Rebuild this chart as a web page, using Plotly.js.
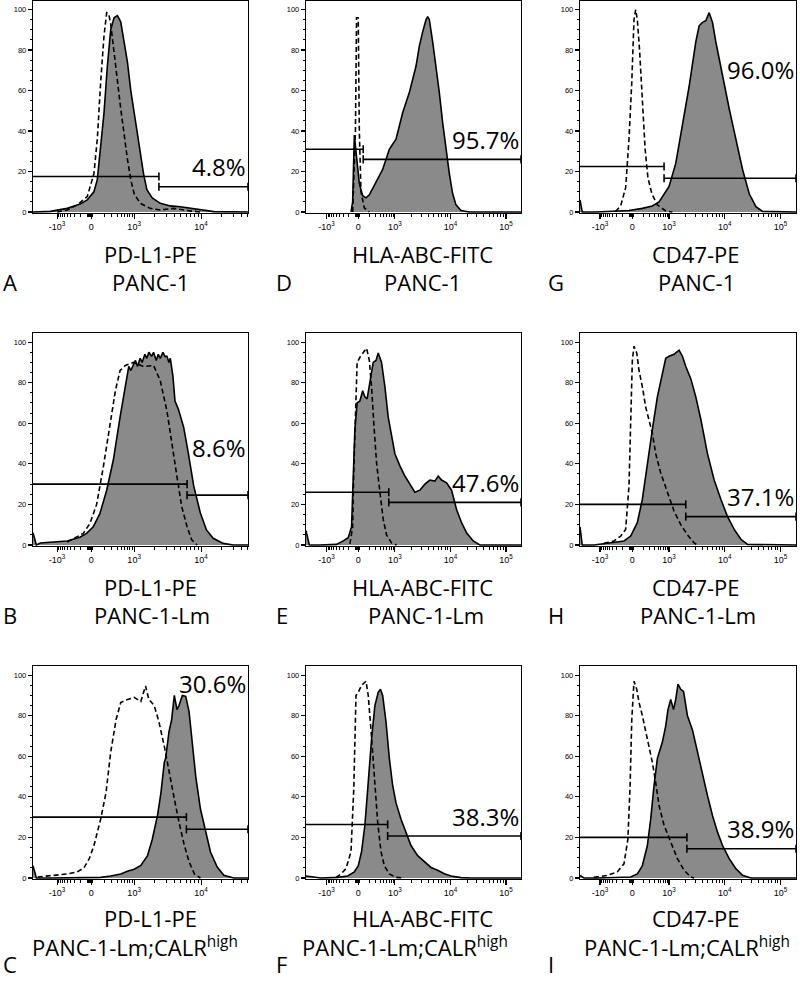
<!DOCTYPE html>
<html><head><meta charset="utf-8">
<script src="https://cdn.plot.ly/plotly-3.0.1.min.js"></script>
<style>html,body{margin:0;padding:0;background:#fff;}#chart{width:800px;height:982px;}</style>
</head><body><div id="chart"></div>
<script>
// x values: biexponential display units (10^3 -> 3, 10^4 -> 4, 10^5 -> 5); y: % of max
const markers = ["PD-L1-PE", "HLA-ABC-FITC", "CD47-PE"];
const cellLines = ["PANC-1", "PANC-1-Lm", "PANC-1-Lm;CALR<sup>high</sup>"];
const panelLetters = ["A","B","C","D","E","F","G","H","I"];
const percentLabels = ["4.8%","8.6%","30.6%","95.7%","47.6%","38.3%","96.0%","37.1%","38.9%"];
const tickLabels = ["-10<sup>3</sup>","0","10<sup>3</sup>","10<sup>4</sup>","10<sup>5</sup>"];

// Panel A: PD-L1, PANC-1
const A_stained_x = [1.49,1.75,2.00,2.20,2.30,2.40,2.45,2.50,2.55,2.60,2.65,2.70,2.75,2.80,2.85,2.90,2.95,3.00,3.04,3.09,3.14,3.19,3.27,3.39,3.54,3.69,3.84,3.99,4.19,4.70];
const A_stained_y = [0,0.3,1.8,4,6,10,16,31,49,72,90,96,97,94,85,74,60,49,39,29,19,11,7,4.3,3,2.6,1.8,1,0.2,0];
const A_control_x = [1.85,2.00,2.15,2.30,2.40,2.45,2.50,2.55,2.59,2.62,2.65,2.70,2.75,2.80,2.85,2.90,2.95,3.00,3.09,3.24,3.39,3.59,3.79,3.99];
const A_control_y = [0,1,3.5,7.6,19,36,64,87,98.5,98,93,80,65,51,37,26,16,9,4.3,1.8,1,1.8,0.7,0];
// Panel B: PD-L1, PANC-1-Lm
const B_stained_x = [1.49,1.52,1.54,1.60,1.80,2.00,2.19,2.29,2.39,2.49,2.59,2.69,2.79,2.87,2.92,2.95,2.99,3.02,3.05,3.09,3.12,3.16,3.19,3.22,3.26,3.29,3.33,3.36,3.39,3.43,3.46,3.49,3.52,3.54,3.58,3.61,3.66,3.74,3.81,3.89,3.99,4.08,4.18,4.33,4.48,4.71];
const B_stained_y = [6,3,0,1,1.6,2,3.8,5.7,9,15.6,27,42,63,78,88,86,89,91,88,92,90,94,92,95,93,95,91,94,92,95,93,93,90,92,83,71,67,58,45,29,15.6,7.4,3.3,0.8,0,0];
const B_control_x = [2.00,2.24,2.34,2.44,2.54,2.64,2.72,2.79,2.87,2.99,3.14,3.29,3.39,3.49,3.56,3.64,3.71,3.79,3.86,3.94];
const B_control_y = [1.5,5.7,10.6,20,38.5,60,76,86,88.5,90,88,88.5,81,66,50,33.6,19,9,2.5,0];
// Panel C: PD-L1, PANC-1-Lm;CALRhigh
const C_stained_x = [1.49,1.54,1.76,2.25,2.50,2.65,2.80,2.90,3.00,3.10,3.20,3.27,3.35,3.40,3.45,3.47,3.52,3.56,3.60,3.64,3.67,3.72,3.77,3.82,3.87,3.92,3.99,4.07,4.14,4.24,4.34,4.49,4.70];
const C_stained_y = [6,0,0,0,0.3,1,2,3.3,4.3,6.2,11,19,31,42,57,59,72,78,90,83,85,90,89.5,82,65,50,34,22.6,12.8,5.4,1.3,0,0];
const C_control_x = [1.56,1.71,1.86,2.01,2.15,2.25,2.33,2.40,2.50,2.58,2.65,2.73,2.80,2.90,3.00,3.10,3.17,3.22,3.30,3.37,3.45,3.52,3.60,3.67,3.75,3.82,3.90,3.99];
const C_control_y = [0.5,1,1.3,2,3,5,9.5,16,29,42,62,78,86.5,88,89,87,94.7,88,85,77,65,52,39,27.5,16,8,2,0];
// Panel D: HLA-ABC, PANC-1
const D_stained_x = [2.21,2.24,2.27,2.30,2.33,2.36,2.42,2.48,2.54,2.66,2.78,2.90,3.02,3.14,3.26,3.38,3.44,3.50,3.56,3.59,3.62,3.68,3.74,3.80,3.86,3.92,3.98,4.04,4.10,4.19,4.34,5.27];
const D_stained_y = [0,5,38,30,20,14,8,7,8.5,15,21,31,36,49,59,72,82,89,95,96.5,95,84,72,59,44,31,19,9,3.5,0.7,0,0];
const D_control_x = [2.24,2.29,2.31,2.34,2.36,2.39,2.45,2.54];
const D_control_y = [0,40,96,96,40,10,2,0];
// Panel E: HLA-ABC, PANC-1-Lm
const E_stained_x = [1.40,1.46,1.65,1.95,2.07,2.16,2.22,2.25,2.28,2.32,2.37,2.42,2.46,2.50,2.55,2.61,2.66,2.70,2.76,2.82,2.88,2.94,3.00,3.09,3.18,3.27,3.36,3.45,3.54,3.63,3.72,3.78,3.84,3.93,4.02,4.11,4.20,4.29,4.41,4.53,5.28];
const E_stained_y = [7,0,0,0.3,2,3.6,9,29,57,70,71,76,73,72,81,90,91,94.6,90,78,63,54,45,39,34,30,26,27,30,32,31.5,34,32,30.6,27,17.5,11,6,2,0,0];
const E_control_x = [2.19,2.24,2.26,2.29,2.32,2.38,2.43,2.49,2.54,2.58,2.62,2.67,2.73,2.79,2.85,2.94,3.03];
const E_control_y = [0.5,9,37,70,90,93,94.6,97,91,78,60,40.5,26,12.6,5,1,0];
// Panel F: HLA-ABC, PANC-1-Lm;CALRhigh
const F_stained_x = [1.40,1.67,1.97,2.15,2.27,2.34,2.40,2.46,2.52,2.58,2.64,2.70,2.74,2.78,2.84,2.90,2.96,3.02,3.11,3.20,3.29,3.41,3.53,3.65,3.77,3.89,4.01,4.19,4.37,5.27];
const F_stained_y = [1,0,0.3,1,3,6,13,26,47,68.5,85,91.5,93,90,77,59,45.6,37,29,22.6,16,11,7.9,5.2,3.8,2.1,1,0.2,0,0];
const F_control_x = [1.94,2.03,2.12,2.21,2.26,2.28,2.30,2.34,2.40,2.48,2.52,2.57,2.63,2.69,2.75,2.81,2.90,3.02,3.17];
const F_control_y = [0.3,2,4.6,13,44,77,90,91.5,95,97,90,73,49,27.5,13,6,2,0.3,0];
// Panel G: CD47, PANC-1
const G_stained_x = [1.40,1.44,1.68,1.98,2.28,2.52,2.70,2.82,2.88,3.00,3.12,3.24,3.36,3.48,3.54,3.60,3.66,3.72,3.78,3.84,3.96,4.08,4.20,4.32,4.44,4.56,4.68,5.28];
const G_stained_y = [6,0,0,0.2,0.7,1.8,3,5,7.6,12.6,24,42,62,84,92,93.7,94.5,98.5,93.7,84,67,51,36,21,9,2.6,0.3,0];
const G_control_x = [2.04,2.13,2.22,2.28,2.33,2.37,2.40,2.43,2.47,2.52,2.57,2.62,2.69,2.79,2.94,3.06];
const G_control_y = [0.3,3,12,36,64,95,100,95,80,55,31,17,9,3.5,0.5,0];
// Panel H: CD47, PANC-1-Lm
const H_stained_x = [1.40,1.44,1.65,1.95,2.19,2.31,2.43,2.52,2.61,2.70,2.79,2.88,2.94,3.00,3.09,3.18,3.24,3.30,3.39,3.48,3.57,3.69,3.81,3.93,4.05,4.17,4.29,4.41,5.28];
const H_stained_y = [9,0,0,1,2,4.4,11,22.5,40.5,57,73,85,92,93,94,96,93,88,82,73,62,45,32,22.5,14,7.7,2.8,0.3,0];
const H_control_x = [1.83,2.01,2.13,2.22,2.28,2.31,2.34,2.37,2.42,2.46,2.52,2.58,2.64,2.70,2.76,2.85,2.97,3.09,3.21,3.33,3.45,3.51];
const H_control_y = [0.8,2,4.4,7.7,29,62,91,98,94.6,86,78,68,62,55,45,35.5,26,16.7,10,5,1,0];
// Panel I: CD47, PANC-1-Lm;CALRhigh
const I_stained_x = [1.40,1.47,1.71,2.31,2.43,2.52,2.61,2.67,2.73,2.79,2.88,2.94,2.98,3.03,3.08,3.12,3.16,3.21,3.26,3.33,3.42,3.51,3.60,3.69,3.78,3.87,3.96,4.08,4.20,4.32,4.47,5.28];
const I_stained_y = [1.3,0,0,0.5,2,6,16,29,45.6,59,67,75,83,88,83,88,95.6,93,92,80,73,62,50.5,40.6,30.8,22.6,16,9.5,4.6,1.3,0,0];
const I_control_x = [1.65,1.89,2.07,2.19,2.26,2.30,2.33,2.37,2.42,2.46,2.52,2.58,2.64,2.70,2.76,2.82,2.91,3.03,3.15,3.27,3.39,3.45];
const I_control_y = [0.3,1.3,3,7,19,45.6,78,97,93,86.6,80,72,65,57,47,35.7,26,17.7,9.5,3.8,0.5,0];

// Gates (A..I): split position, left gate height, right gate height
const gateSplit = [3.37,3.79,3.78,2.43,2.89,2.87,2.91,3.30,3.32];
const gateLeftY = [17.5,30,30,31,26,26.4,22.5,20,20];
const gateRightY = [12.5,24.6,24,26,21,20.7,16.7,14,14.4];

const stainedX = [A_stained_x,B_stained_x,C_stained_x,D_stained_x,E_stained_x,F_stained_x,G_stained_x,H_stained_x,I_stained_x];
const stainedY = [A_stained_y,B_stained_y,C_stained_y,D_stained_y,E_stained_y,F_stained_y,G_stained_y,H_stained_y,I_stained_y];
const controlX = [A_control_x,B_control_x,C_control_x,D_control_x,E_control_x,F_control_x,G_control_x,H_control_x,I_control_x];
const controlY = [A_control_y,B_control_y,C_control_y,D_control_y,E_control_y,F_control_y,G_control_y,H_control_y,I_control_y];

// ---------- layout config ----------
const W = 800, H = 982;
const colPx = [[33,248],[306,521],[580,796]];
const rowPx = [[0.5,213],[333,546],[666,879]];
const colRange = [[1.49,4.70],[1.40,5.27],[1.40,5.28]];
const colTicks = [[1.85,2.36,3,4],[1.77,2.34,3,4,5],[1.76,2.34,3,4,5]];
const pctYpos = [22.5,48,96,36,31,30.5,70.4,24,24.3];
const titleCx = [150,422,696];
const line2Cx = [[150,152,135],[422,426,405],[696,698,687]];
const title1Y = [254,587,918];
const title2Y = [282,615,946];
const letterY = [282,615,964];
const letterX = [1,274,546];

function minorTicks(ticks, hi){
  const zm = ticks[0], z0 = ticks[1], out = [];
  for (let k=2;k<=9;k++){
    out.push(z0 + (3-z0)*Math.log10(k));
    out.push(z0 - (z0-zm)*Math.log10(k));
    for (let d=3; d<6; d++){ const v = d+Math.log10(k); if (v<hi) out.push(v); }
  }
  [-0.05,-0.035,-0.02,-0.01,0.01,0.02].forEach(o=>out.push(z0+o));
  return out;
}

const traces = [], annotations = [];
const layout = {width:W,height:H,margin:{l:0,r:0,t:0,b:0},showlegend:false,
  paper_bgcolor:'#fff',plot_bgcolor:'#fff',annotations:annotations};

for (let p=0;p<9;p++){
  const col = Math.floor(p/3), row = p%3, n = p+1;
  const xa = n===1?'x':'x'+n, ya = n===1?'y':'y'+n;
  const xk = n===1?'xaxis':'xaxis'+n, yk = n===1?'yaxis':'yaxis'+n;
  const rng = colRange[col];
  layout[xk] = {domain:[colPx[col][0]/W, colPx[col][1]/W], range:rng, anchor:ya,
    showline:true, mirror:true, linecolor:'#000', linewidth:1.2, showgrid:false, zeroline:false,
    ticks:'outside', ticklen:5, tickwidth:1.2, tickcolor:'#000', tickmode:'array',
    tickvals:colTicks[col], ticktext:tickLabels.slice(0,colTicks[col].length),
    tickfont:{family:'Liberation Sans, Arial',size:9,color:'#000'},
    minor:{tickmode:'array',tickvals:minorTicks(colTicks[col],rng[1]),ticks:'outside',ticklen:3,tickcolor:'#000',tickwidth:1},
    fixedrange:true};
  layout[yk] = {domain:[1-rowPx[row][1]/H, 1-rowPx[row][0]/H], range:[-0.5,104.5], anchor:xa,
    showline:true, mirror:true, linecolor:'#000', linewidth:1.2, showgrid:false, zeroline:false,
    ticks:'outside', ticklen:4, tickwidth:1.2, tickcolor:'#000', tickmode:'array',
    tickvals:[0,20,40,60,80,100], tickfont:{family:'Liberation Sans, Arial',size:7.5,color:'#000'},
    minor:{dtick:5,tick0:0,ticks:'outside',ticklen:2,tickcolor:'#000',tickwidth:1},
    fixedrange:true};

  traces.push({type:'scatter',mode:'lines',x:stainedX[p],y:stainedY[p],xaxis:xa,yaxis:ya,
    fill:'tozeroy',fillcolor:'#8a8a8a',line:{color:'#000',width:1.6},hoverinfo:'skip'});
  traces.push({type:'scatter',mode:'lines',x:controlX[p],y:controlY[p],xaxis:xa,yaxis:ya,
    line:{color:'#000',width:1.6,dash:'5px,3px'},hoverinfo:'skip'});
  const s = gateSplit[p], lY = gateLeftY[p], rY = gateRightY[p], t = 2;
  traces.push({type:'scatter',mode:'lines',xaxis:xa,yaxis:ya,hoverinfo:'skip',
    x:[rng[0],s,null,s,s,null,s,rng[1],null,s,s,null,rng[1],rng[1]],
    y:[lY,lY,null,lY-t,lY+t,null,rY,rY,null,rY-t,rY+t,null,rY-t,rY+t],
    line:{color:'#000',width:1.6}});

  annotations.push({xref:xa,yref:ya,x:rng[1],y:pctYpos[p],xanchor:'right',yanchor:'middle',
    text:percentLabels[p],showarrow:false,font:{family:'Open Sans',size:24,color:'#000'}});
  annotations.push({xref:'paper',yref:'paper',x:titleCx[col]/W,y:1-title1Y[row]/H,xanchor:'center',yanchor:'middle',
    text:markers[col],showarrow:false,font:{family:'Open Sans',size:22,color:'#000'}});
  annotations.push({xref:'paper',yref:'paper',x:line2Cx[col][row]/W,y:1-title2Y[row]/H,xanchor:'center',yanchor:'middle',
    text:cellLines[row],showarrow:false,font:{family:'Open Sans',size:22,color:'#000'}});
  annotations.push({xref:'paper',yref:'paper',x:letterX[col]/W,y:1-letterY[row]/H,xanchor:'left',yanchor:'middle',
    text:panelLetters[p],showarrow:false,font:{family:'Open Sans',size:22,color:'#000'}});
}

Plotly.newPlot('chart', traces, layout, {displayModeBar:false, staticPlot:true});
</script></body></html>
